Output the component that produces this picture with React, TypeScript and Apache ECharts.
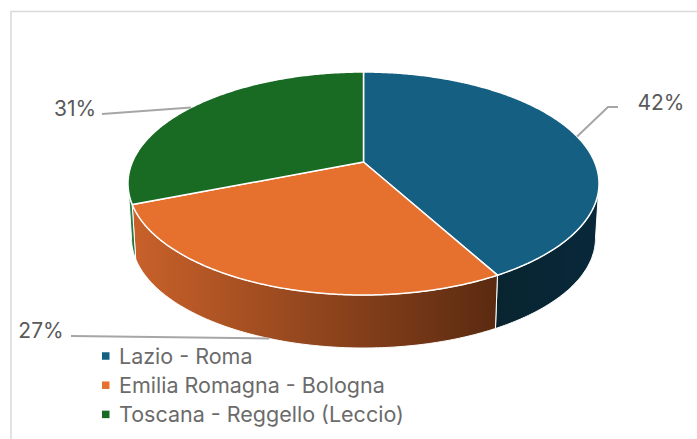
import React, { useEffect, useRef } from "react";
import * as echarts from "echarts";

const regions = ["Lazio - Roma", "Emilia Romagna - Bologna", "Toscana - Reggello (Leccio)"];
const shares = [42, 27, 31];
const topColors = ["#156082", "#E6702E", "#196B24"];

// Side wall shading for each slice, from its left end to its right end.
const wallStops = [
  ["#08242F", "#08283A"],
  ["#C9612A", "#5A2A10"],
  ["#3F8A5A", "#1B6B30"],
];

// Where each leader line bends and where its label sits.
const leaderPaths: number[][][] = [
  [[608, 107], [618, 107]],
  [[71, 336]],
  [[102, 114]],
];
const labelSpots = [[661, 102], [41, 330], [75, 108]];
const leaderOnBase = [false, true, false];

const FONT = "Inter, sans-serif";
const TAU = Math.PI * 2;

// Perspective view of the disc: the far half is foreshortened against the near half.
const VIEW = { cx: 363.5, cy: 162, a: 231.1, b: 107.35, k: 0.1928 };
const BASE = { cy: 217, scale: 0.985 };

function project(angle: number, onBase: boolean): number[] {
  const x = Math.sin(angle);
  const z = Math.cos(angle);
  const w = 1 + VIEW.k * z;
  const s = onBase ? BASE.scale : 1;
  const cy = onBase ? BASE.cy : VIEW.cy;
  return [VIEW.cx + (s * VIEW.a * x) / w, cy - (s * VIEW.b * z) / w];
}

function arc(from: number, to: number, onBase: boolean): number[][] {
  const steps = Math.max(2, Math.ceil(Math.abs(to - from) / 0.01));
  const pts: number[][] = [];
  for (let i = 0; i <= steps; i++) {
    pts.push(project(from + ((to - from) * i) / steps, onBase));
  }
  return pts;
}

// The wall is only seen on the near part of the rim.
const rimEdge = Math.acos(-VIEW.k);
const wallFrom = rimEdge;
const wallTo = TAU - rimEdge;

const total = shares.reduce((a, b) => a + b, 0);

function sliceRenderer(index: number) {
  const before = shares.slice(0, index).reduce((a, b) => a + b, 0);
  return (_params: unknown, api: any) => {
    const value = api.value(0) as number;
    const start = (before / total) * TAU;
    const end = ((before + value) / total) * TAU;
    const children: any[] = [];

    const wa = Math.max(start, wallFrom);
    const wb = Math.min(end, wallTo);
    if (wb > wa) {
      children.push({
        type: "polygon",
        shape: { points: [...arc(wa, wb, false), ...arc(wb, wa, true)] },
        style: {
          fill: new echarts.graphic.LinearGradient(0, 0, 1, 0, [
            { offset: 0, color: wallStops[index][0] },
            { offset: 1, color: wallStops[index][1] },
          ]),
          stroke: "#ffffff",
          lineWidth: 1,
        },
      });
    }

    children.push({
      type: "polygon",
      shape: { points: [[VIEW.cx, VIEW.cy], ...arc(start, end, false)] },
      style: { fill: topColors[index], stroke: "#ffffff", lineWidth: 1.5 },
    });

    const mid = (start + end) / 2;
    children.push({
      type: "polyline",
      shape: { points: [project(mid, leaderOnBase[index]), ...leaderPaths[index]] },
      style: { fill: "none", stroke: "#A6A6A6", lineWidth: 2 },
    });
    children.push({
      type: "text",
      style: {
        text: `${value}%`,
        x: labelSpots[index][0],
        y: labelSpots[index][1],
        align: "center",
        verticalAlign: "middle",
        fontFamily: FONT,
        fontSize: 21,
        fill: "#595959",
      },
    });

    return { type: "group", children };
  };
}

export default function App() {
  const ref = useRef<HTMLDivElement>(null);

  useEffect(() => {
    document.body.style.margin = "0";
    const chart = echarts.init(ref.current!, undefined, { renderer: "svg" });
    chart.setOption({
      animation: false,
      backgroundColor: "#ffffff",
      legend: {
        orient: "vertical",
        left: 97,
        top: 340,
        icon: "rect",
        itemWidth: 7.5,
        itemHeight: 7.5,
        itemGap: 7.2,
        data: regions,
        textStyle: {
          fontFamily: FONT,
          fontSize: 21.5,
          lineHeight: 19,
          color: "#6B6B6B",
          padding: [0, 0, 0, 4.5],
        },
      },
      graphic: [
        {
          type: "polyline",
          shape: { points: [[11, 439], [11, 11.5], [697, 11.5]] },
          style: { fill: "none", stroke: "#D9D9D9", lineWidth: 1.5 },
        },
      ],
      series: regions.map((name, i) => ({
        type: "custom",
        name,
        coordinateSystem: "none",
        itemStyle: { color: topColors[i] },
        data: [[shares[i]]],
        renderItem: sliceRenderer(i),
      })),
    });
    return () => chart.dispose();
  }, []);

  return <div ref={ref} style={{ width: 697, height: 439 }} />;
}
